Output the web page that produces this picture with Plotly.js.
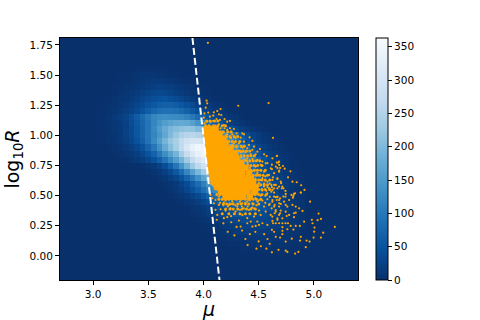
<!DOCTYPE html>
<html>
<head>
<meta charset="utf-8">
<script src="https://cdn.plot.ly/plotly-3.0.1.min.js"></script>
<style>
    html, body { margin: 0; padding: 0; background: #fff; }
</style>
</head>
<body>
<div id="chart" style="width:480px;height:320px"></div>
<script>
// density cells (counts per cell)
var muBins = [3.00,3.05,3.10,3.15,3.20,3.25,3.30,3.35,3.40,3.45,3.50,3.55,3.60,3.65,3.70,3.75,3.80,3.85,3.90,3.95,
    4.00,4.05,4.10,4.15,4.20,4.25,4.30,4.35,4.40,4.45,4.50,4.55,4.60,4.65,4.70,4.75,4.80,4.85,4.90];
var logRBins = [1.55,1.50,1.45,1.40,1.35,1.30,1.25,1.20,1.15,1.10,1.05,1.00,0.95,0.90,0.85,0.80,0.75,0.70,0.65,0.60,
    0.55,0.50,0.45,0.40,0.35,0.30,0.25,0.20,0.15,0.10,0.05];
var counts = [
    [0,0,0,0,0,0,1,1,2,3,4,3,3,2,1,1,0,0,0,0,0,0,0,0,0,0,0,0,0,0,0,0,0,0,0,0,0,0,0],
    [0,0,0,0,1,2,3,4,5,7,8,7,6,4,3,2,1,0,0,0,0,0,0,0,0,0,0,0,0,0,0,0,0,0,0,0,0,0,0],
    [0,0,0,1,1,2,3,4,6,9,12,14,13,11,9,6,4,3,2,1,0,0,0,0,0,0,0,0,0,0,0,0,0,0,0,0,0,0,0],
    [0,0,1,1,2,3,5,7,10,13,17,21,23,22,19,15,11,7,5,3,2,1,0,0,0,0,0,0,0,0,0,0,0,0,0,0,0,0,0],
    [0,1,1,2,3,5,8,11,15,20,26,31,33,31,27,21,16,11,8,5,3,2,1,0,0,0,0,0,0,0,0,0,0,0,0,0,0,0,0],
    [1,1,2,3,5,7,10,15,21,28,35,42,46,47,43,37,30,22,16,11,7,4,2,1,0,0,0,0,0,0,0,0,0,0,0,0,0,0,0],
    [1,2,3,4,6,9,14,20,28,37,47,56,63,67,66,61,52,44,34,24,17,11,7,4,2,1,0,0,0,0,0,0,0,0,0,0,0,0,0],
    [1,2,3,5,8,12,18,26,36,48,62,75,85,90,90,86,78,68,55,42,30,21,14,9,5,3,1,0,0,0,0,0,0,0,0,0,0,0,0],
    [1,2,4,8,12,18,28,42,60,80,100,118,128,130,128,126,122,114,100,82,64,46,32,22,14,9,5,3,1,0,0,0,0,0,0,0,0,0,0],
    [1,2,4,6,10,15,24,38,55,75,95,118,140,155,165,172,175,172,160,140,115,90,65,47,32,20,13,8,4,2,1,0,0,0,0,0,0,0,0],
    [1,2,3,6,9,14,22,35,52,72,95,122,150,175,195,205,212,218,215,200,180,150,115,85,63,45,30,20,13,8,5,2,1,0,0,0,0,0,0],
    [1,1,2,4,8,14,24,36,52,72,95,118,143,170,198,222,245,255,258,252,238,215,190,160,130,105,78,56,38,25,16,10,6,3,1,0,0,0,0],
    [1,2,3,5,8,13,20,31,46,67,92,122,155,190,220,240,270,290,300,300,285,260,230,195,159,122,91,65,44,29,18,11,7,4,2,0,0,0,0],
    [0,1,1,2,4,7,12,20,32,48,71,99,133,174,205,235,270,305,335,350,345,327,296,259,217,174,133,99,71,48,32,20,12,7,4,2,1,0,0],
    [0,0,0,1,2,4,7,12,20,32,47,70,98,131,160,190,235,275,310,335,345,343,322,292,256,214,172,131,98,70,47,32,20,12,7,4,2,1,0],
    [0,0,0,0,1,2,3,7,11,18,30,45,66,92,124,155,190,230,270,300,320,330,323,304,276,241,201,162,124,92,66,45,30,18,11,7,3,2,0],
    [0,0,0,0,0,0,0,0,1,3,7,13,24,40,65,97,138,183,226,264,291,300,294,276,250,219,183,147,112,84,60,40,27,17,10,6,3,2,1],
    [0,0,0,0,0,0,0,0,0,1,3,6,11,21,35,56,84,120,159,196,229,252,260,255,239,217,190,159,127,98,73,52,35,23,15,9,5,3,1],
    [0,0,0,0,0,0,0,0,0,0,1,2,5,10,18,30,48,72,101,134,166,194,213,220,216,202,184,161,134,108,83,62,44,30,20,12,7,4,2],
    [0,0,0,0,0,0,0,0,0,0,0,1,2,4,8,14,24,39,59,83,110,136,158,175,180,176,166,150,131,110,88,68,50,36,24,16,10,6,4],
    [0,0,0,0,0,0,0,0,0,0,0,0,1,3,6,11,19,30,45,64,85,106,123,136,140,137,129,117,102,85,69,53,39,28,19,13,8,5,3],
    [0,0,0,0,0,0,0,0,0,0,0,0,0,1,2,5,9,15,24,36,51,67,83,97,107,110,108,101,92,80,67,54,41,31,22,15,10,6,4],
    [0,0,0,0,0,0,0,0,0,0,0,0,0,0,1,2,4,7,11,18,28,39,52,64,75,82,85,83,78,71,62,52,42,32,24,17,11,8,5],
    [0,0,0,0,0,0,0,0,0,0,0,0,0,0,0,0,1,3,5,9,14,21,30,40,49,57,63,65,64,60,54,47,40,32,24,18,13,9,6],
    [0,0,0,0,0,0,0,0,0,0,0,0,0,0,0,0,1,2,4,6,10,16,22,29,36,42,47,48,47,44,40,35,29,24,18,13,10,6,4],
    [0,0,0,0,0,0,0,0,0,0,0,0,0,0,0,0,0,0,1,3,5,7,11,16,21,26,31,34,35,34,32,29,26,21,17,13,10,7,5],
    [0,0,0,0,0,0,0,0,0,0,0,0,0,0,0,0,0,0,0,1,2,3,5,8,12,15,19,22,24,25,25,23,21,18,15,12,9,7,5],
    [0,0,0,0,0,0,0,0,0,0,0,0,0,0,0,0,0,0,0,0,1,2,4,5,8,10,13,15,16,17,17,16,14,12,10,8,6,5,3],
    [0,0,0,0,0,0,0,0,0,0,0,0,0,0,0,0,0,0,0,0,0,0,1,2,4,5,7,8,10,11,11,11,10,9,8,7,5,4,3],
    [0,0,0,0,0,0,0,0,0,0,0,0,0,0,0,0,0,0,0,0,0,0,0,0,1,2,3,4,5,6,7,7,7,6,6,5,4,3,2],
    [0,0,0,0,0,0,0,0,0,0,0,0,0,0,0,0,0,0,0,0,0,0,0,0,0,1,1,2,2,3,3,4,4,4,3,3,2,2,1]
];

// separating line
var cutMu = [3.9, 4.145];
var cutLogR = [1.808, -0.2];

// selected sources, read one by one from the sparse part
var sparseMu = [4.04,4.59,4.315,4.63,4.667,4.62,4.664,4.685,4.72,4.67,4.695,4.736,4.62,4.685,4.788,4.63,4.67,4.766,4.806,4.845,
    4.885,4.915,4.882,4.83,4.797,4.815,4.81,4.743,4.745,4.743,4.715,4.703,4.71,4.725,4.655,4.64,4.615,4.615,4.64,4.67,
    4.694,4.655,4.966,5.043,4.982,5.034,5.064,4.988,5.19,5.006,5.003,5.085,5.064,4.997,4.961,4.934,4.882,4.875,4.8,4.745,
    4.694,4.655,4.715,4.715,4.715,4.76,4.815,4.62,4.927,4.745,4.76,4.83,4.86,4.912,4.873,4.836,4.79,4.766,4.743,4.715,
    4.685,4.655,4.63,4.82,4.836,4.897,4.866,4.82,4.776,4.76,4.806,4.836,4.776,4.82,4.882,4.639,4.664,4.624,4.685,4.645,
    4.70,4.73,4.685,4.745,4.724,4.618,4.654,4.70,4.745,4.624,4.67,4.715,4.754,4.645,4.685,
    4.028,4.034,4.021,4.155,4.125,4.094,4.043,4.009,4.088,4.14,4.161,4.058,4.003,4.118,4.149,4.191,4.215,4.24,4.088,4.064,
    4.028,4.009,4.14,4.185,4.109,4.058,4.155,4.24,4.276,4.215,4.191,4.125,4.079,4.352,4.367,4.30,4.261,4.215,4.17,4.246,
    4.418,4.443,4.337,4.291,4.321,4.367,4.276,4.412,4.458,4.512,4.443,4.488,4.397,4.352,4.549,4.573,4.473,4.428,4.382,4.337,
    4.664,4.625,4.676,4.534,4.488,4.443,4.397,4.579,4.261,4.2,4.155,4.125,
    4.064,4.079,4.109,4.14,4.17,4.2,4.24,4.276,4.306,4.352,4.397,4.443,4.488,4.534,4.579,4.625,4.67,4.094,4.14,4.185,
    4.231,4.261,4.306,4.352,4.397,4.443,4.488,4.534,4.579,4.625,4.67,4.109,4.155,4.2,4.246,4.291,4.331,4.367,4.412,4.458,
    4.503,4.549,4.594,4.64,4.685,4.125,4.185,4.215,4.252,4.321,4.352,4.397,4.428,4.458,4.488,4.518,4.564,4.609,4.655,4.694,
    4.473,4.503,4.534,4.579,4.625,4.67,4.397,4.443,4.337,4.518,4.564,4.609,4.655,4.685,4.549,4.594,4.64,4.685,4.534,4.579,
    4.625,4.67,4.549,4.594,4.64,4.685,4.503,4.488,4.473,4.7,
    4.22,4.28,4.35,4.38,4.42,4.47,4.5,4.55,4.58,4.52,4.6,4.64,4.48,4.68,4.4,4.3,4.18,4.25,4.12,4.57,4.62,
    4.3,4.32,4.28,4.34,4.38,4.36,4.4,4.42,4.46,4.44,4.48,4.5,4.47,4.52,4.55,4.5,4.46,4.53,4.57,4.49,
    4.52,4.56,4.6,4.47,4.5,4.42,4.38,4.33,4.29,4.25,4.22,4.18,4.15,4.2,4.26,4.35,4.4,4.44,4.48,4.56,
    4.6,4.34,4.26,4.22,4.18,4.25,4.2,4.16,4.12,4.1,4.07,4.1,4.33,4.56,4.6,4.62,4.58];
var sparseLogR = [1.768,1.268,1.246,0.98,0.83,0.757,0.774,0.755,0.746,0.73,0.73,0.724,0.72,0.707,0.702,0.652,0.638,0.652,0.616,0.611,
    0.586,0.547,0.525,0.52,0.506,0.498,0.483,0.539,0.514,0.492,0.575,0.603,0.561,0.561,0.589,0.561,0.589,0.533,0.525,0.492,
    0.478,0.487,0.45,0.351,0.299,0.296,0.307,0.271,0.24,0.235,0.201,0.193,0.152,0.152,0.119,0.127,0.158,0.127,0.143,0.119,
    0.152,0.158,0.18,0.208,0.238,0.221,0.218,0.216,0.072,0.044,0.033,0.019,0.033,0.284,0.249,0.249,0.249,0.271,0.271,0.271,
    0.271,0.271,0.271,0.354,0.359,0.373,0.395,0.321,0.34,0.409,0.423,0.409,0.464,0.514,0.525,0.492,0.464,0.45,0.464,0.423,
    0.431,0.45,0.409,0.423,0.492,0.395,0.381,0.376,0.367,0.326,0.312,0.312,0.331,0.354,0.34,
    1.288,1.266,1.23,1.219,1.202,1.191,1.189,1.183,1.164,1.175,1.169,1.155,1.147,1.136,1.128,1.136,1.114,1.12,1.12,1.114,
    1.114,1.1,1.092,1.086,1.081,1.073,1.059,1.059,1.053,1.045,1.059,1.045,1.045,1.017,1.009,1.017,1.009,1.009,1.017,0.976,
    0.984,0.954,0.981,0.976,0.934,0.948,0.934,0.921,0.907,0.887,0.879,0.865,0.893,0.899,0.843,0.829,0.843,0.843,0.86,0.865,
    0.829,0.81,0.774,0.783,0.796,0.805,0.81,0.769,0.893,0.962,0.99,1.003,
    0.506,0.478,0.464,0.492,0.47,0.506,0.487,0.506,0.478,0.498,0.52,0.506,0.525,0.542,0.52,0.547,0.561,0.437,0.423,0.442,
    0.423,0.451,0.409,0.437,0.451,0.437,0.451,0.459,0.47,0.464,0.487,0.382,0.387,0.376,0.395,0.368,0.382,0.395,0.382,0.395,
    0.376,0.409,0.423,0.409,0.437,0.34,0.313,0.321,0.279,0.293,0.34,0.313,0.285,0.326,0.285,0.34,0.368,0.34,0.368,0.354,
    0.249,0.257,0.271,0.257,0.29,0.299,0.271,0.243,0.243,0.755,0.768,0.727,0.741,0.782,0.699,0.672,0.686,0.699,0.644,0.616,
    0.63,0.644,0.575,0.561,0.589,0.575,0.603,0.686,0.741,0.616,
    0.2,0.17,0.21,0.14,0.18,0.2,0.12,0.18,0.14,0.08,0.1,0.2,0.06,0.05,0.09,0.24,0.27,0.33,0.3,0.06,0.03,
    0.9,0.87,0.85,0.82,0.8,0.76,0.77,0.73,0.75,0.7,0.71,0.67,0.64,0.63,0.6,0.58,0.59,0.55,0.54,0.54,
    0.5,0.5,0.49,0.48,0.46,0.46,0.44,0.45,0.42,0.43,0.41,0.42,0.44,0.46,0.47,0.41,0.41,0.4,0.42,0.44,
    0.43,0.86,0.92,0.95,0.93,0.98,1.0,1.03,1.06,1.03,1.01,0.98,0.74,0.66,0.6,0.57,0.57];

// band around the core where sources crowd but do not quite merge
var bandMu = [4.03,4.06,4.1,4.13, 4.02,4.05,4.09,4.13,4.17,4.2, 4.15,4.18,4.22,4.25, 4.17,4.21,4.24,4.28,4.31,
    4.2,4.23,4.26,4.29,4.33, 4.23,4.27,4.3,4.34,4.37, 4.27,4.3,4.33,4.36,4.39,4.42, 4.31,4.34,4.37,4.4,4.43,4.46,
    4.33,4.36,4.39,4.42,4.45,4.48,4.51, 4.37,4.4,4.43,4.46,4.49,4.53, 4.4,4.43,4.46,4.49,4.52,4.56,
    4.42,4.45,4.48,4.51,4.54,4.58, 4.44,4.47,4.5,4.53,4.56,4.6, 4.46,4.49,4.52,4.55,4.58, 4.47,4.5,4.53,4.56,4.6,
    4.12,4.15,4.18,4.44,4.47,4.5,4.53,4.57, 4.14,4.17,4.2,4.23,4.26,4.3,4.34,4.38,4.41,4.45,4.48,4.52,
    4.18,4.21,4.24,4.27,4.31,4.34,4.38,4.41,4.45,4.5, 4.2,4.24,4.27,4.31,4.35,4.39,4.43,4.47, 4.17,4.23,4.28,4.33,4.38,4.42,4.47];
var bandLogR = [1.12,1.12,1.12,1.12, 1.08,1.08,1.08,1.08,1.08,1.08, 1.03,1.03,1.03,1.03, 0.99,0.99,0.99,0.99,0.99,
    0.95,0.95,0.95,0.95,0.95, 0.91,0.91,0.91,0.91,0.91, 0.87,0.87,0.87,0.87,0.87,0.87, 0.83,0.83,0.83,0.83,0.83,0.83,
    0.79,0.79,0.79,0.79,0.79,0.79,0.79, 0.75,0.75,0.75,0.75,0.75,0.75, 0.71,0.71,0.71,0.71,0.71,0.71,
    0.67,0.67,0.67,0.67,0.67,0.67, 0.63,0.63,0.63,0.63,0.63,0.63, 0.59,0.59,0.59,0.59,0.59, 0.55,0.55,0.55,0.55,0.55,
    0.51,0.51,0.51,0.51,0.51,0.51,0.51,0.51, 0.47,0.47,0.47,0.47,0.47,0.47,0.47,0.47,0.47,0.47,0.47,0.47,
    0.43,0.43,0.43,0.43,0.43,0.43,0.43,0.43,0.43,0.43, 0.39,0.39,0.39,0.39,0.39,0.39,0.39,0.39, 0.35,0.35,0.35,0.35,0.35,0.35,0.35];

// solid core of the selected sources
var coreMu = [4.03,4.07,4.11, 4.03,4.07,4.11,4.14, 4.03,4.07,4.11,4.15,4.18, 4.04,4.08,4.12,4.16,4.2,
    4.04,4.08,4.12,4.16,4.2,4.24, 4.05,4.09,4.13,4.17,4.21,4.25,4.28, 4.05,4.09,4.13,4.17,4.21,4.25,4.3,
    4.06,4.1,4.14,4.18,4.22,4.26,4.3,4.34, 4.06,4.1,4.14,4.18,4.22,4.26,4.3,4.34,4.38,
    4.07,4.11,4.15,4.19,4.23,4.27,4.31,4.35,4.41, 4.08,4.12,4.16,4.2,4.24,4.28,4.32,4.36,4.4,4.43,
    4.09,4.13,4.17,4.21,4.25,4.29,4.33,4.37,4.41,4.45, 4.12,4.16,4.2,4.24,4.28,4.32,4.36,4.4,4.44,4.47,
    4.16,4.2,4.24,4.28,4.32,4.36,4.4,4.46, 4.2,4.24,4.28,4.32,4.36,4.42];
var coreLogR = [1.05,1.05,1.05, 1.01,1.01,1.01,1.01, 0.97,0.97,0.97,0.97,0.97, 0.93,0.93,0.93,0.93,0.93,
    0.89,0.89,0.89,0.89,0.89,0.89, 0.85,0.85,0.85,0.85,0.85,0.85,0.85, 0.81,0.81,0.81,0.81,0.81,0.81,0.81,
    0.77,0.77,0.77,0.77,0.77,0.77,0.77,0.77, 0.73,0.73,0.73,0.73,0.73,0.73,0.73,0.73,0.73,
    0.69,0.69,0.69,0.69,0.69,0.69,0.69,0.69,0.69, 0.65,0.65,0.65,0.65,0.65,0.65,0.65,0.65,0.65,0.65,
    0.61,0.61,0.61,0.61,0.61,0.61,0.61,0.61,0.61,0.61, 0.57,0.57,0.57,0.57,0.57,0.57,0.57,0.57,0.57,0.57,
    0.53,0.53,0.53,0.53,0.53,0.53,0.53,0.53, 0.49,0.49,0.49,0.49,0.49,0.49];

var xTicks = [3.0, 3.5, 4.0, 4.5, 5.0];
var yTicks = [0, 0.25, 0.5, 0.75, 1.0, 1.25, 1.5, 1.75];
var barTicks = [0, 50, 100, 150, 200, 250, 300, 350];

var bluesReversed = [
    [0, '#08306b'], [0.125, '#08519c'], [0.25, '#2171b5'], [0.375, '#4292c6'], [0.5, '#6baed6'],
    [0.625, '#9ecae1'], [0.75, '#c6dbef'], [0.875, '#deebf7'], [1, '#f7fbff']
];

var density = {
    type: 'heatmap',
    x: muBins,
    y: logRBins,
    z: counts,
    zmin: 0,
    zmax: 363,
    colorscale: bluesReversed,
    colorbar: {
        x: 1.06,
        xanchor: 'left',
        xpad: 0,
        ypad: 0,
        len: 1,
        thickness: 12,
        outlinecolor: '#000',
        outlinewidth: 1,
        ticks: 'outside',
        ticklen: 4,
        tickwidth: 1,
        tickcolor: '#000',
        tickvals: barTicks,
        tickfont: { family: 'DejaVu Sans', size: 10.5, color: '#000' }
    }
};

var core = {
    type: 'scatter',
    mode: 'markers',
    x: coreMu,
    y: coreLogR,
    marker: { color: 'orange', size: 6.5 }
};

var band = {
    type: 'scatter',
    mode: 'markers',
    x: bandMu,
    y: bandLogR,
    marker: { color: 'orange', size: 3 }
};

var sparse = {
    type: 'scatter',
    mode: 'markers',
    x: sparseMu,
    y: sparseLogR,
    marker: { color: 'orange', size: 2.2 }
};

var cut = {
    type: 'scatter',
    mode: 'lines',
    x: cutMu,
    y: cutLogR,
    line: { color: '#fff', width: 2, dash: '7px,3px' }
};

var axisStyle = {
    showgrid: false,
    zeroline: false,
    showline: true,
    mirror: true,
    linecolor: '#000',
    linewidth: 1,
    ticks: 'outside',
    ticklen: 4,
    tickwidth: 1,
    tickcolor: '#000',
    tickfont: { family: 'DejaVu Sans', size: 10.5, color: '#000' }
};

var layout = {
    width: 480,
    height: 320,
    showlegend: false,
    margin: { l: 60, r: 122, t: 38, b: 40, pad: 0 },
    paper_bgcolor: '#fff',
    plot_bgcolor: '#08306b',
    xaxis: Object.assign({}, axisStyle, {
        range: [2.7, 5.4],
        tickvals: xTicks,
        ticktext: ['3.0', '3.5', '4.0', '4.5', '5.0'],
        title: { text: '<i>μ</i>', font: { family: 'DejaVu Sans', size: 19, color: '#000' }, standoff: 6 }
    }),
    yaxis: Object.assign({}, axisStyle, {
        range: [-0.2, 1.808],
        tickvals: yTicks,
        ticktext: ['0.00', '0.25', '0.50', '0.75', '1.00', '1.25', '1.50', '1.75'],
        title: { text: 'log<sub>10</sub><i>R</i>', font: { family: 'DejaVu Sans', size: 19, color: '#000' }, standoff: 4 }
    })
};

Plotly.newPlot('chart', [density, core, band, sparse, cut], layout, { displayModeBar: false, staticPlot: true });
</script>
</body>
</html>
